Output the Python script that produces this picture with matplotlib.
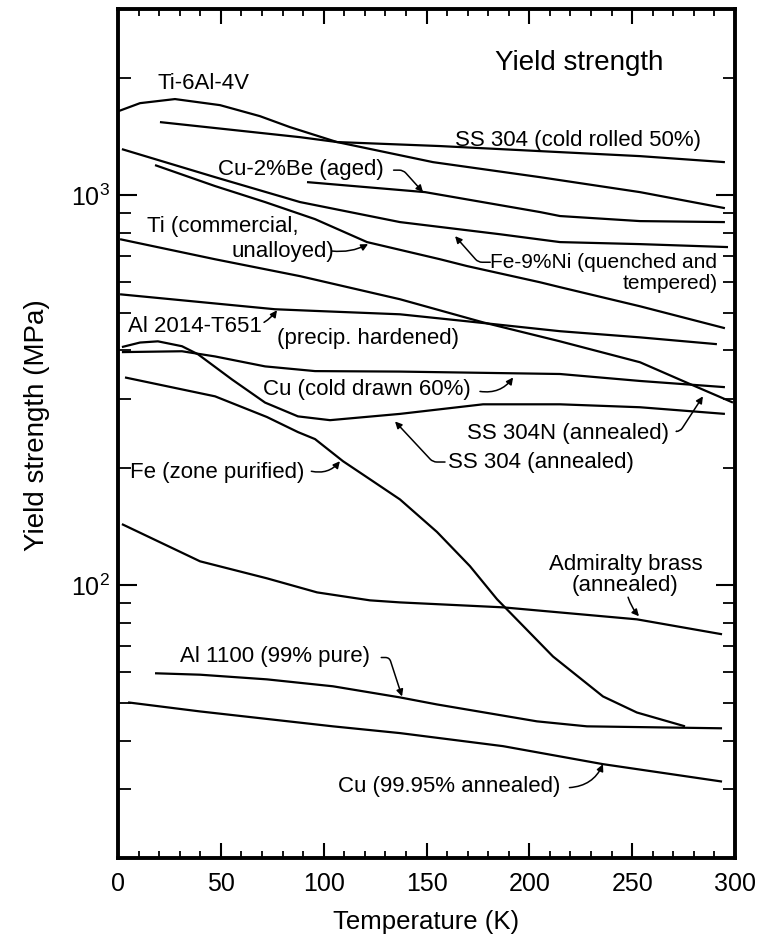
import numpy as np
import matplotlib
matplotlib.use('Agg')
import matplotlib.pyplot as plt
from matplotlib.ticker import FixedLocator, NullFormatter

plt.rcParams['font.family'] = ['Liberation Sans', 'DejaVu Sans']
plt.rcParams['mathtext.fontset'] = 'custom'
plt.rcParams['mathtext.rm'] = 'Liberation Sans'
plt.rcParams['mathtext.it'] = 'Liberation Sans:italic'
plt.rcParams['mathtext.bf'] = 'Liberation Sans:bold'

# ---------------- data (T in K, yield strength in MPa) ----------------
ti64_T = [0, 10.7, 27.7, 49.6, 69.0, 83.6, 106.5, 153.2, 205.2, 253.8, 295.1]
ti64_Y = [1640, 1721, 1763, 1701, 1594, 1494, 1368, 1215, 1112, 1018, 926]

ss304cr_T = [20.4, 88.5, 106.5, 156.6, 214.9, 253.8, 295.1]
ss304cr_Y = [1539, 1408, 1368, 1336, 1289, 1259, 1215]

cu2be_T = [91.9, 149.3, 205.2, 214.9, 253.8, 295.1]
cu2be_Y = [1080, 1018, 905, 884, 858, 853]

fe9ni_T = [1.9, 47.2, 88.5, 137.1, 185.7, 214.9, 253.8, 296.6]
fe9ni_Y = [1312, 1112, 960, 853, 794, 758, 749, 736]

ticomm_T = [18.0, 47.2, 71.5, 95.8, 121.1, 156.6, 169.7, 205.2, 214.9, 253.8, 295.1]
ticomm_Y = [1194, 1055, 960, 868, 758, 685, 658, 598, 581, 519, 456]

ss304n_T = [1.0, 47.2, 88.5, 137.1, 177.5, 214.9, 253.8, 278.1, 299.0]
ss304n_Y = [771, 685, 620, 541, 472, 422, 373, 328, 294]

al2014_T = [1.0, 76.3, 95.8, 137.1, 169.7, 214.9, 253.8, 291.2]
al2014_Y = [557, 510, 505, 495, 475, 448, 432, 415]

cucd_T = [1.9, 31.1, 47.2, 71.5, 95.8, 137.1, 214.9, 253.8, 295.1]
cucd_Y = [396, 398, 386, 364, 354, 353, 348, 334, 322]

ss304a_T = [1.9, 10.7, 19.4, 31.1, 38.9, 55.4, 71.5, 87.5, 103.1, 137.1, 177.5, 214.9, 253.8, 295.1]
ss304a_Y = [408, 419, 422, 410, 391, 337, 294, 271, 265, 275, 291, 291, 286, 275]

fe_T = [3.4, 47.2, 72.4, 87.5, 95.8, 109.4, 122.5, 137.1, 155.1, 171.1, 184.3, 211.5, 235.8, 252.3, 275.7]
fe_Y = [341, 305, 270, 247, 237, 208, 187, 166, 137, 112, 92.1, 65.7, 51.9, 47.2, 43.5]

brass_T = [1.9, 39.9, 72.4, 96.8, 122.5, 137.1, 187.2, 252.3, 293.7]
brass_Y = [143.5, 115.2, 104.2, 95.9, 91.5, 90.4, 87.8, 81.8, 74.9]

al1100_T = [18.0, 39.9, 72.4, 104.5, 137.1, 155.1, 203.7, 228.0, 293.7]
al1100_Y = [59.5, 59.0, 57.4, 55.1, 51.6, 49.5, 44.8, 43.5, 43.0]

cuann_T = [4.9, 39.9, 104.5, 137.1, 187.2, 235.8, 293.7]
cuann_Y = [50.1, 47.5, 43.5, 41.8, 38.7, 34.8, 31.4]

x_major = [0, 50, 100, 150, 200, 250, 300]
x_labels = ['0', '50', '100', '150', '200', '250', '300']
y_major = [100, 1000]
y_labels = [r'$\mathregular{10^2}$', r'$\mathregular{10^3}$']

series = [(ti64_T, ti64_Y), (ss304cr_T, ss304cr_Y), (cu2be_T, cu2be_Y),
          (fe9ni_T, fe9ni_Y), (ticomm_T, ticomm_Y), (ss304n_T, ss304n_Y),
          (al2014_T, al2014_Y), (cucd_T, cucd_Y), (ss304a_T, ss304a_Y),
          (fe_T, fe_Y), (brass_T, brass_Y), (al1100_T, al1100_Y),
          (cuann_T, cuann_Y)]

# ---------------- figure ----------------
fig = plt.figure(figsize=(7.62, 9.47), dpi=100)
ax = fig.add_axes([118/762, 1-858/947, (735-118)/762, (858-9)/947])

for T, Y in series:
    ax.plot(T, Y, color='black', lw=1.6, solid_capstyle='butt', solid_joinstyle='round')

ax.set_yscale('log')
ax.set_xlim(0, 300)
ax.set_ylim(20, 3000)

ax.xaxis.set_major_locator(FixedLocator(x_major))
ax.set_xticklabels(x_labels)
ax.xaxis.set_minor_locator(FixedLocator(np.arange(0, 301, 10)))
ax.yaxis.set_major_locator(FixedLocator(y_major))
ax.set_yticklabels(y_labels)
ymin = [v * m for v in (10, 100, 1000) for m in range(2, 10)]
ax.yaxis.set_minor_locator(FixedLocator([v for v in ymin if 20 <= v <= 3000]))
ax.yaxis.set_minor_formatter(NullFormatter())

ax.tick_params(axis='both', which='both', direction='in', top=True, right=True,
               labelsize=18, color='black')
ax.tick_params(axis='x', which='major', length=11, width=1.5, pad=10)
ax.tick_params(axis='x', which='minor', length=5, width=1.3)
ax.tick_params(axis='y', which='major', length=14, width=1.5, pad=6)
ax.tick_params(axis='y', which='minor', length=9, width=1.3)
for s in ax.spines.values():
    s.set_linewidth(2.8)

ax.set_xlabel('Temperature (K)', fontsize=18.5, labelpad=10)
ax.set_ylabel('Yield strength (MPa)', fontsize=20)
ax.yaxis.set_label_coords(-(118 - 50) / 617, 1 - (425 - 9) / 849)

fs = 16
ax.text(183.3, 2181, 'Yield strength', fontsize=20, ha='left', va='center')
ax.text(19.0, 1937, 'Ti-6Al-4V', fontsize=fs, ha='left', va='center')
ax.text(163.9, 1384, 'SS 304 (cold rolled 50%)', fontsize=fs, ha='left', va='center')
ax.text(48.6, 1166, 'Cu-2%Be (aged)', fontsize=fs, ha='left', va='center')
ax.text(14.1, 833, 'Ti (commercial,', fontsize=fs, ha='left', va='center')
ax.text(55.4, 719, 'unalloyed)', fontsize=fs, ha='left', va='center')
ax.text(291.2, 673, 'Fe-9%Ni (quenched and', fontsize=15, ha='right', va='center')
ax.text(291.7, 595, 'tempered)', fontsize=15, ha='right', va='center')
ax.text(4.9, 461, 'Al 2014-T651', fontsize=fs, ha='left', va='center')
ax.text(77.3, 430, '(precip. hardened)', fontsize=fs, ha='left', va='center')
ax.text(70.5, 318, 'Cu (cold drawn 60%)', fontsize=fs, ha='left', va='center')
ax.text(169.7, 245.5, 'SS 304N (annealed)', fontsize=fs, ha='left', va='center')
ax.text(160.4, 207, 'SS 304 (annealed)', fontsize=fs, ha='left', va='center')
ax.text(5.8, 195, 'Fe (zone purified)', fontsize=fs, ha='left', va='center')
ax.text(247, 113.2, 'Admiralty brass', fontsize=fs, ha='center', va='center')
ax.text(246.5, 100, '(annealed)', fontsize=fs, ha='center', va='center')
ax.text(30.1, 65.7, 'Al 1100 (99% pure)', fontsize=fs, ha='left', va='center')
ax.text(107.0, 30.5, 'Cu (99.95% annealed)', fontsize=fs, ha='left', va='center')

def arrow(start, tip, cs):
    ax.annotate('', xy=tip, xytext=start,
                arrowprops=dict(arrowstyle='-|>', lw=1.1, color='black',
                                mutation_scale=10, shrinkA=0, shrinkB=0,
                                connectionstyle=cs))

arrow((134.0, 1159), (148.3, 1018), 'angle,angleA=0,angleB=132,rad=4')
arrow((104.0, 719), (121.6, 749), 'arc3,rad=0.15')
arrow((181.0, 673), (163.9, 785), 'angle,angleA=0,angleB=-48.5,rad=4')
arrow((71.0, 472), (77.3, 507), 'arc3,rad=0.1')
arrow((176.0, 314), (192.1, 341), 'arc3,rad=0.3')
arrow((271.5, 248), (284.4, 305), 'angle,angleA=0,angleB=57,rad=4')
arrow((159.0, 207), (134.7, 263), 'angle,angleA=0,angleB=-47,rad=4')
arrow((94.0, 196), (107.9, 208), 'arc3,rad=0.3')
arrow((248, 93.2), (253.3, 83.3), 'arc3,rad=0.1')
arrow((128.0, 65.3), (138.1, 51.9), 'angle,angleA=0,angleB=108,rad=4')
arrow((219.5, 30.3), (235.8, 34.8), 'arc3,rad=0.3')

fig.savefig('out.png', dpi=100)
